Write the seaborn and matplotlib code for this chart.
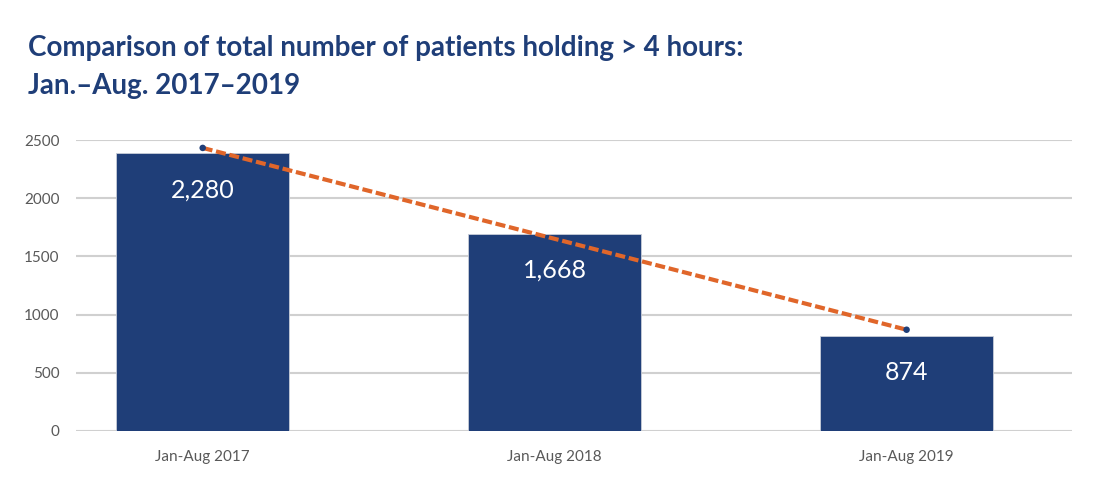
import matplotlib
matplotlib.use("Agg")
import matplotlib.pyplot as plt
import seaborn as sns
import pandas as pd

categories = ["Jan-Aug 2017", "Jan-Aug 2018", "Jan-Aug 2019"]
bar_values = [2385, 1694, 818]
bar_labels = ["2,280", "1,668", "874"]
trend_x = [0, 2]
trend_values = [2432, 870]
y_ticks = [0, 500, 1000, 1500, 2000, 2500]

NAVY = "#1F3E78"
ORANGE = "#E0662A"

sns.set_theme(style="white")
plt.rcParams["font.family"] = ["Lato", "DejaVu Sans"]

df = pd.DataFrame({"period": categories, "patients": bar_values})

fig = plt.figure(figsize=(11, 5), dpi=100)
ax = fig.add_axes([76 / 1100, 69 / 500, 996 / 1100, 291 / 500])

sns.barplot(data=df, x="period", y="patients", color=NAVY, width=0.49,
            saturation=1, ax=ax, zorder=3)
for p in ax.patches:
    p.set_edgecolor("#c8cdd8")
    p.set_linewidth(0.6)

for i, (v, lab) in enumerate(zip(bar_values, bar_labels)):
    ax.text(i, v - 315, lab, color="white", ha="center", va="center",
            fontsize=18, zorder=5)

ax.plot(trend_x, trend_values, color=ORANGE, lw=3, ls=(0, (2.4, 0.9)),
        zorder=4, solid_capstyle="butt")
ax.scatter(trend_x, trend_values, color=NAVY, s=22, zorder=6, edgecolors="none")

ax.set_xlim(-0.36, 2.47)
ax.set_ylim(0, 2500)
ax.set_yticks(y_ticks)
ax.set_yticklabels([str(t) for t in y_ticks])
ax.yaxis.grid(True, color="#d0d0d0", lw=1.5, zorder=0)
ax.set_axisbelow(True)
for s in ax.spines.values():
    s.set_visible(False)
ax.set_xlabel("")
ax.set_ylabel("")
ax.tick_params(axis="y", length=0, pad=12, labelsize=11, labelcolor="#595959")
ax.tick_params(axis="x", length=0, pad=14, labelsize=11, labelcolor="#595959")

fig.text(28 / 1100, 1 - 48 / 500, "Comparison of total number of patients holding > 4 hours:",
         color=NAVY, fontsize=20, fontweight="bold", ha="left", va="center")
fig.text(28 / 1100, 1 - 86 / 500, "Jan.\u2013Aug. 2017\u20132019",
         color=NAVY, fontsize=20, fontweight="bold", ha="left", va="center")

fig.savefig("out.png", dpi=100, facecolor="white")
